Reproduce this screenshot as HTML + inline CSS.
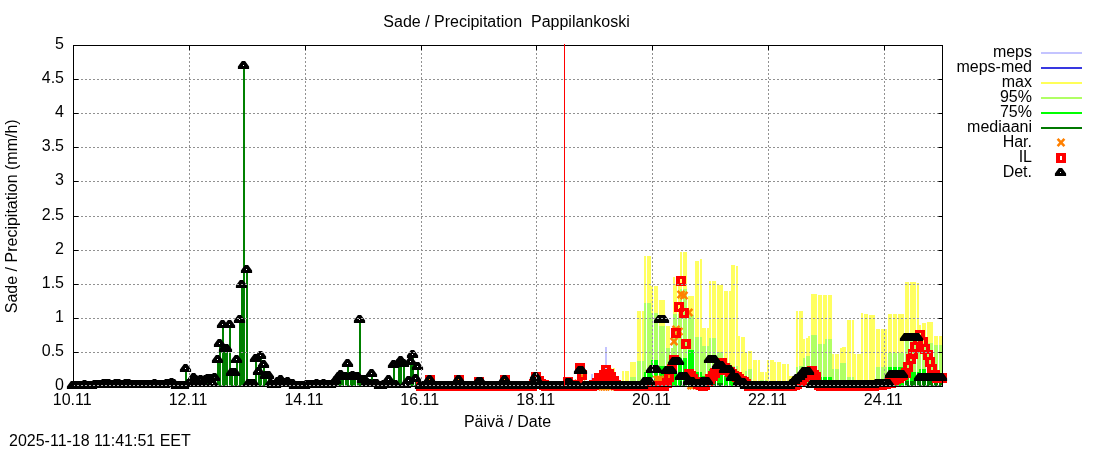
<!DOCTYPE html><html><head><meta charset="utf-8"><title>Sade / Precipitation Pappilankoski</title>
<style>html,body{margin:0;padding:0;background:#fff}body{width:1100px;height:450px;overflow:hidden}svg{display:block}text{font-family:"Liberation Sans",sans-serif;font-size:16px;fill:#000}</style></head><body>
<svg width="1100" height="450" viewBox="0 0 1100 450">
<rect width="1100" height="450" fill="#fff"/>
<defs>
<path id="t" d="M-1.6,-4.5H1.6L5.6,1V3.4H-5.6V1Z M-0.5,-0.5h1v1h-1z" fill="#000" fill-rule="evenodd"/>
<path id="s" d="M-5,-5H5V5H-5Z M-1,-2h2v4h-2z" fill="#f00" fill-rule="evenodd"/>
<path id="x" d="M-3.4,-3.7L3.4,3.7M-3.4,3.7L3.4,-3.7" stroke="#ff8000" stroke-width="2.5" fill="none"/>
</defs>
<g id="plot">
<path d="M591,374.2h2V386.5h-2zM605,346.9h2V386.5h-2z" fill="#c4c4ff" shape-rendering="crispEdges"/>
<path d="M608,368.1h2V386.5h-2zM610,368.1h2V386.5h-2zM613,368.1h2V386.5h-2zM622,371.2h2V386.5h-2zM625,371.2h2V386.5h-2zM627,371.2h2V386.5h-2zM630,362.3h2V386.5h-2zM632,362.3h2V386.5h-2zM634,362.3h2V386.5h-2zM637,311.0h2V386.5h-2zM639,311.0h2V386.5h-2zM642,311.0h2V386.5h-2zM644,256.2h2V386.5h-2zM647,256.2h2V386.5h-2zM649,256.2h2V386.5h-2zM651,286.2h2V386.5h-2zM654,286.2h2V386.5h-2zM656,286.2h2V386.5h-2zM659,299.9h2V386.5h-2zM661,299.9h2V386.5h-2zM663,299.9h2V386.5h-2zM666,326.0h2V386.5h-2zM668,326.0h2V386.5h-2zM671,366.0h2V386.5h-2zM673,277.0h2V386.5h-2zM675,284.2h2V386.5h-2zM678,280.8h2V386.5h-2zM680,252.1h2V386.5h-2zM683,252.1h2V386.5h-2zM685,252.1h2V386.5h-2zM688,295.5h2V386.5h-2zM690,295.5h2V386.5h-2zM692,295.5h2V386.5h-2zM695,261.0h2V386.5h-2zM697,261.0h2V386.5h-2zM700,259.0h2V386.5h-2zM702,327.8h2V386.5h-2zM704,327.8h2V386.5h-2zM707,327.8h2V386.5h-2zM709,281.1h2V386.5h-2zM712,281.1h2V386.5h-2zM714,281.1h2V386.5h-2zM717,284.9h2V386.5h-2zM719,284.9h2V386.5h-2zM721,284.9h2V386.5h-2zM724,291.0h2V386.5h-2zM726,291.0h2V386.5h-2zM729,291.0h2V386.5h-2zM731,265.1h2V386.5h-2zM733,265.1h2V386.5h-2zM736,265.8h2V386.5h-2zM738,336.0h2V386.5h-2zM741,336.7h2V386.5h-2zM743,336.7h2V386.5h-2zM745,352.1h2V386.5h-2zM748,351.0h2V386.5h-2zM750,351.0h2V386.5h-2zM753,359.9h2V386.5h-2zM755,359.9h2V386.5h-2zM758,359.9h2V386.5h-2zM760,372.2h2V386.5h-2zM762,372.2h2V386.5h-2zM765,372.2h2V386.5h-2zM767,359.9h2V386.5h-2zM770,359.9h2V386.5h-2zM772,359.9h2V386.5h-2zM774,361.9h2V386.5h-2zM777,361.9h2V386.5h-2zM779,361.9h2V386.5h-2zM782,364.0h2V386.5h-2zM784,364.0h2V386.5h-2zM787,364.0h2V386.5h-2zM789,375.9h2V386.5h-2zM791,375.9h2V386.5h-2zM794,375.9h2V386.5h-2zM796,310.5h2V386.5h-2zM799,310.5h2V386.5h-2zM801,310.5h2V386.5h-2zM803,338.8h2V386.5h-2zM806,337.7h2V386.5h-2zM808,336.0h2V386.5h-2zM811,294.1h2V386.5h-2zM813,294.1h2V386.5h-2zM815,294.1h2V386.5h-2zM818,295.1h2V386.5h-2zM820,295.1h2V386.5h-2zM823,295.1h2V386.5h-2zM825,295.1h2V386.5h-2zM828,295.1h2V386.5h-2zM830,295.1h2V386.5h-2zM832,354.1h2V386.5h-2zM835,354.1h2V386.5h-2zM837,354.1h2V386.5h-2zM840,348.0h2V386.5h-2zM842,346.9h2V386.5h-2zM844,346.9h2V386.5h-2zM847,320.2h2V386.5h-2zM849,320.2h2V386.5h-2zM852,320.2h2V386.5h-2zM854,353.8h2V386.5h-2zM857,353.8h2V386.5h-2zM859,353.8h2V386.5h-2zM861,313.2h2V386.5h-2zM864,314.2h2V386.5h-2zM866,314.2h2V386.5h-2zM869,315.1h2V386.5h-2zM871,315.1h2V386.5h-2zM873,315.1h2V386.5h-2zM876,329.2h2V386.5h-2zM878,329.2h2V386.5h-2zM881,329.2h2V386.5h-2zM883,329.2h2V386.5h-2zM885,329.2h2V386.5h-2zM888,313.9h2V386.5h-2zM890,313.9h2V386.5h-2zM893,313.9h2V386.5h-2zM895,313.9h2V386.5h-2zM898,313.9h2V386.5h-2zM900,313.9h2V386.5h-2zM902,313.9h2V386.5h-2zM905,282.2h2V386.5h-2zM907,282.2h2V386.5h-2zM910,282.2h2V386.5h-2zM912,282.2h2V386.5h-2zM914,282.2h2V386.5h-2zM917,282.8h2V386.5h-2zM919,324.8h2V386.5h-2zM922,323.1h2V386.5h-2zM924,323.1h2V386.5h-2zM927,322.1h2V386.5h-2zM929,322.1h2V386.5h-2zM931,322.1h2V386.5h-2zM934,336.0h2V386.5h-2zM936,336.0h2V386.5h-2zM939,336.0h2V386.5h-2zM941,336.0h2V386.5h-2z" fill="#ffff60" shape-rendering="crispEdges"/>
<path d="M630,377.0h2V386.5h-2zM632,377.0h2V386.5h-2zM634,377.0h2V386.5h-2zM637,360.8h2V386.5h-2zM639,360.8h2V386.5h-2zM642,360.8h2V386.5h-2zM644,303.0h2V386.5h-2zM647,303.0h2V386.5h-2zM649,303.0h2V386.5h-2zM651,313.0h2V386.5h-2zM654,313.0h2V386.5h-2zM656,313.0h2V386.5h-2zM659,326.0h2V386.5h-2zM661,326.0h2V386.5h-2zM663,326.0h2V386.5h-2zM666,348.0h2V386.5h-2zM668,348.0h2V386.5h-2zM671,348.0h2V386.5h-2zM673,314.0h2V386.5h-2zM675,314.0h2V386.5h-2zM678,314.0h2V386.5h-2zM680,289.0h2V386.5h-2zM683,289.0h2V386.5h-2zM685,289.0h2V386.5h-2zM688,314.5h2V386.5h-2zM690,314.5h2V386.5h-2zM692,314.5h2V386.5h-2zM695,337.0h2V386.5h-2zM697,337.0h2V386.5h-2zM700,337.0h2V386.5h-2zM702,346.3h2V386.5h-2zM704,346.3h2V386.5h-2zM707,346.3h2V386.5h-2zM709,338.4h2V386.5h-2zM712,338.4h2V386.5h-2zM714,338.4h2V386.5h-2zM717,352.4h2V386.5h-2zM719,352.4h2V386.5h-2zM721,352.4h2V386.5h-2zM724,362.6h2V386.5h-2zM726,362.6h2V386.5h-2zM729,362.6h2V386.5h-2zM731,366.0h2V386.5h-2zM733,366.0h2V386.5h-2zM736,366.0h2V386.5h-2zM738,378.3h2V386.5h-2zM741,378.3h2V386.5h-2zM743,378.3h2V386.5h-2zM745,370.5h2V386.5h-2zM748,369.1h2V386.5h-2zM750,369.1h2V386.5h-2zM753,383.8h2V386.5h-2zM755,383.8h2V386.5h-2zM758,383.8h2V386.5h-2zM760,379.7h2V386.5h-2zM762,379.7h2V386.5h-2zM765,379.7h2V386.5h-2zM767,383.1h2V386.5h-2zM770,383.1h2V386.5h-2zM772,383.1h2V386.5h-2zM774,383.1h2V386.5h-2zM777,383.1h2V386.5h-2zM779,383.1h2V386.5h-2zM782,383.1h2V386.5h-2zM784,383.1h2V386.5h-2zM787,383.1h2V386.5h-2zM789,384.5h2V386.5h-2zM791,384.5h2V386.5h-2zM794,384.5h2V386.5h-2zM796,367.4h2V386.5h-2zM799,366.4h2V386.5h-2zM801,366.4h2V386.5h-2zM803,357.9h2V386.5h-2zM806,356.0h2V386.5h-2zM808,355.5h2V386.5h-2zM811,335.4h2V386.5h-2zM813,335.4h2V386.5h-2zM815,335.4h2V386.5h-2zM818,344.2h2V386.5h-2zM820,344.2h2V386.5h-2zM823,344.2h2V386.5h-2zM825,339.4h2V386.5h-2zM828,339.4h2V386.5h-2zM830,339.4h2V386.5h-2zM832,368.8h2V386.5h-2zM835,368.8h2V386.5h-2zM837,368.8h2V386.5h-2zM840,362.9h2V386.5h-2zM842,362.9h2V386.5h-2zM844,362.9h2V386.5h-2zM847,377.0h2V386.5h-2zM849,377.0h2V386.5h-2zM852,377.0h2V386.5h-2zM854,384.5h2V386.5h-2zM857,384.5h2V386.5h-2zM859,384.5h2V386.5h-2zM861,385.1h2V386.5h-2zM864,385.1h2V386.5h-2zM866,385.1h2V386.5h-2zM869,385.1h2V386.5h-2zM871,385.1h2V386.5h-2zM873,385.1h2V386.5h-2zM876,366.9h2V386.5h-2zM878,366.9h2V386.5h-2zM881,366.9h2V386.5h-2zM883,366.9h2V386.5h-2zM885,366.9h2V386.5h-2zM888,353.1h2V386.5h-2zM890,353.1h2V386.5h-2zM893,353.1h2V386.5h-2zM895,353.1h2V386.5h-2zM898,353.1h2V386.5h-2zM900,353.1h2V386.5h-2zM902,353.1h2V386.5h-2zM905,340.1h2V386.5h-2zM907,340.1h2V386.5h-2zM910,340.1h2V386.5h-2zM912,340.1h2V386.5h-2zM914,340.1h2V386.5h-2zM917,340.1h2V386.5h-2zM919,343.2h2V386.5h-2zM922,343.2h2V386.5h-2zM924,343.2h2V386.5h-2zM927,343.2h2V386.5h-2zM929,343.2h2V386.5h-2zM931,343.2h2V386.5h-2zM934,344.9h2V386.5h-2zM936,344.9h2V386.5h-2zM939,344.9h2V386.5h-2zM941,344.9h2V386.5h-2z" fill="#b0ff64" shape-rendering="crispEdges"/>
<path d="M644,372.2h2V386.5h-2zM647,372.2h2V386.5h-2zM649,372.2h2V386.5h-2zM651,359.9h2V386.5h-2zM654,359.9h2V386.5h-2zM656,359.9h2V386.5h-2zM659,366.0h2V386.5h-2zM661,366.0h2V386.5h-2zM663,366.0h2V386.5h-2zM666,372.9h2V386.5h-2zM668,372.9h2V386.5h-2zM671,372.9h2V386.5h-2zM673,362.6h2V386.5h-2zM675,362.6h2V386.5h-2zM678,362.6h2V386.5h-2zM680,357.9h2V386.5h-2zM683,357.9h2V386.5h-2zM685,357.9h2V386.5h-2zM688,350.4h2V386.5h-2zM690,350.4h2V386.5h-2zM692,350.4h2V386.5h-2zM695,372.2h2V386.5h-2zM697,372.2h2V386.5h-2zM700,372.2h2V386.5h-2zM702,376.3h2V386.5h-2zM704,376.3h2V386.5h-2zM707,376.3h2V386.5h-2zM709,369.4h2V386.5h-2zM712,369.4h2V386.5h-2zM714,369.4h2V386.5h-2zM717,374.2h2V386.5h-2zM719,374.2h2V386.5h-2zM721,374.2h2V386.5h-2zM724,375.9h2V386.5h-2zM726,375.9h2V386.5h-2zM729,375.9h2V386.5h-2zM731,381.0h2V386.5h-2zM733,381.0h2V386.5h-2zM736,381.0h2V386.5h-2zM738,383.1h2V386.5h-2zM741,383.1h2V386.5h-2zM743,383.1h2V386.5h-2zM818,377.0h2V386.5h-2zM820,377.0h2V386.5h-2zM823,377.0h2V386.5h-2zM825,377.0h2V386.5h-2zM828,377.0h2V386.5h-2zM830,377.0h2V386.5h-2zM888,367.1h2V386.5h-2zM890,367.1h2V386.5h-2zM893,367.1h2V386.5h-2zM895,367.1h2V386.5h-2zM898,367.1h2V386.5h-2zM900,367.1h2V386.5h-2zM902,367.1h2V386.5h-2zM905,372.2h2V386.5h-2zM907,372.2h2V386.5h-2zM910,372.2h2V386.5h-2zM912,372.2h2V386.5h-2zM914,372.2h2V386.5h-2zM917,372.2h2V386.5h-2zM919,368.8h2V386.5h-2zM922,368.8h2V386.5h-2zM924,368.8h2V386.5h-2zM927,372.9h2V386.5h-2zM929,372.9h2V386.5h-2zM931,372.9h2V386.5h-2zM934,376.3h2V386.5h-2zM936,376.3h2V386.5h-2zM939,376.3h2V386.5h-2zM941,376.3h2V386.5h-2z" fill="#00ff00" shape-rendering="crispEdges"/>
<path d="M84,385.1h2V386.5h-2zM94,385.1h2V386.5h-2zM96,385.1h2V386.5h-2zM99,385.1h2V386.5h-2zM101,385.1h2V386.5h-2zM103,384.5h2V386.5h-2zM106,384.5h2V386.5h-2zM108,384.5h2V386.5h-2zM111,385.1h2V386.5h-2zM113,385.1h2V386.5h-2zM115,384.5h2V386.5h-2zM118,384.5h2V386.5h-2zM120,385.1h2V386.5h-2zM123,385.1h2V386.5h-2zM125,384.5h2V386.5h-2zM128,384.5h2V386.5h-2zM130,385.1h2V386.5h-2zM132,385.1h2V386.5h-2zM135,385.1h2V386.5h-2zM137,385.1h2V386.5h-2zM140,385.1h2V386.5h-2zM142,385.1h2V386.5h-2zM144,385.1h2V386.5h-2zM147,385.1h2V386.5h-2zM149,385.1h2V386.5h-2zM152,385.1h2V386.5h-2zM154,384.1h2V386.5h-2zM156,385.1h2V386.5h-2zM159,385.1h2V386.5h-2zM161,385.1h2V386.5h-2zM164,385.1h2V386.5h-2zM166,383.8h2V386.5h-2zM169,383.8h2V386.5h-2zM171,383.1h2V386.5h-2zM173,383.8h2V386.5h-2zM176,385.8h2V386.5h-2zM178,385.8h2V386.5h-2zM181,385.8h2V386.5h-2zM183,385.8h2V386.5h-2zM185,368.8h2V386.5h-2zM188,384.5h2V386.5h-2zM190,383.1h2V386.5h-2zM193,378.3h2V386.5h-2zM195,380.4h2V386.5h-2zM198,383.8h2V386.5h-2zM200,380.4h2V386.5h-2zM202,383.8h2V386.5h-2zM205,380.4h2V386.5h-2zM207,379.0h2V386.5h-2zM210,379.0h2V386.5h-2zM212,384.5h2V386.5h-2zM214,378.3h2V386.5h-2zM217,359.9h2V386.5h-2zM219,344.6h2V386.5h-2zM222,325.1h2V386.5h-2zM224,349.0h2V386.5h-2zM226,349.0h2V386.5h-2zM229,325.1h2V386.5h-2zM231,373.5h2V386.5h-2zM234,373.5h2V386.5h-2zM236,359.9h2V386.5h-2zM239,320.7h2V386.5h-2zM241,284.9h2V386.5h-2zM243,66.0h2V386.5h-2zM246,269.9h2V386.5h-2zM248,383.8h2V386.5h-2zM251,383.8h2V386.5h-2zM253,383.8h2V386.5h-2zM255,359.2h2V386.5h-2zM258,371.8h2V386.5h-2zM260,355.8h2V386.5h-2zM263,365.0h2V386.5h-2zM265,376.3h2V386.5h-2zM268,376.3h2V386.5h-2zM270,383.8h2V386.5h-2zM272,385.1h2V386.5h-2zM275,385.1h2V386.5h-2zM277,382.4h2V386.5h-2zM280,380.4h2V386.5h-2zM282,383.1h2V386.5h-2zM284,383.1h2V386.5h-2zM287,382.4h2V386.5h-2zM289,383.8h2V386.5h-2zM292,384.5h2V386.5h-2zM294,385.8h2V386.5h-2zM306,385.1h2V386.5h-2zM309,385.1h2V386.5h-2zM311,385.1h2V386.5h-2zM313,385.1h2V386.5h-2zM316,384.5h2V386.5h-2zM318,385.1h2V386.5h-2zM321,385.1h2V386.5h-2zM323,384.5h2V386.5h-2zM325,385.1h2V386.5h-2zM328,385.1h2V386.5h-2zM330,385.1h2V386.5h-2zM333,383.8h2V386.5h-2zM335,381.0h2V386.5h-2zM338,377.6h2V386.5h-2zM340,375.2h2V386.5h-2zM342,377.6h2V386.5h-2zM345,377.6h2V386.5h-2zM347,364.0h2V386.5h-2zM350,377.6h2V386.5h-2zM352,376.3h2V386.5h-2zM354,377.6h2V386.5h-2zM357,377.3h2V386.5h-2zM359,320.3h2V386.5h-2zM362,380.4h2V386.5h-2zM364,380.4h2V386.5h-2zM366,383.1h2V386.5h-2zM369,383.8h2V386.5h-2zM371,374.2h2V386.5h-2zM374,383.8h2V386.5h-2zM376,383.8h2V386.5h-2zM379,385.8h2V386.5h-2zM381,385.8h2V386.5h-2zM383,385.1h2V386.5h-2zM386,385.1h2V386.5h-2zM388,380.0h2V386.5h-2zM391,385.1h2V386.5h-2zM393,365.4h2V386.5h-2zM395,385.1h2V386.5h-2zM398,364.0h2V386.5h-2zM400,361.3h2V386.5h-2zM403,364.0h2V386.5h-2zM405,385.1h2V386.5h-2zM408,381.0h2V386.5h-2zM410,361.9h2V386.5h-2zM412,355.1h2V386.5h-2zM415,379.0h2V386.5h-2zM417,367.1h2V386.5h-2zM429,380.0h2V386.5h-2zM458,380.0h2V386.5h-2zM478,382.1h2V386.5h-2zM480,382.1h2V386.5h-2zM504,380.0h2V386.5h-2zM533,383.1h2V386.5h-2zM535,377.2h2V386.5h-2zM538,383.1h2V386.5h-2zM680,381.0h2V386.5h-2zM683,381.0h2V386.5h-2zM685,381.0h2V386.5h-2zM688,379.7h2V386.5h-2zM690,379.7h2V386.5h-2zM692,379.7h2V386.5h-2zM695,383.1h2V386.5h-2zM697,383.1h2V386.5h-2zM700,383.1h2V386.5h-2zM709,381.0h2V386.5h-2zM712,381.0h2V386.5h-2zM714,381.0h2V386.5h-2zM717,383.1h2V386.5h-2zM719,383.1h2V386.5h-2zM721,383.1h2V386.5h-2zM905,381.0h2V386.5h-2zM907,381.0h2V386.5h-2zM910,381.0h2V386.5h-2zM912,381.0h2V386.5h-2zM914,381.0h2V386.5h-2zM917,381.0h2V386.5h-2zM919,381.0h2V386.5h-2zM922,381.0h2V386.5h-2zM924,381.0h2V386.5h-2zM927,381.0h2V386.5h-2zM929,381.0h2V386.5h-2zM931,381.0h2V386.5h-2zM934,381.0h2V386.5h-2zM936,381.0h2V386.5h-2zM939,381.0h2V386.5h-2zM941,381.0h2V386.5h-2z" fill="#008000" shape-rendering="crispEdges"/>
<use href="#x" x="430.0" y="380.5"/>
<use href="#x" x="459.0" y="380.5"/>
<use href="#x" x="505.0" y="380.5"/>
<use href="#x" x="578.0" y="383.5"/>
<use href="#x" x="582.0" y="376.5"/>
<use href="#x" x="599.0" y="386.5"/>
<use href="#x" x="602.0" y="386.5"/>
<use href="#x" x="604.0" y="386.5"/>
<use href="#x" x="606.0" y="386.5"/>
<use href="#x" x="609.0" y="386.5"/>
<use href="#x" x="611.0" y="386.5"/>
<use href="#x" x="657.0" y="379.5"/>
<use href="#x" x="660.0" y="379.5"/>
<use href="#x" x="669.0" y="376.5"/>
<use href="#x" x="674.0" y="341.5"/>
<use href="#x" x="676.0" y="329.5"/>
<use href="#x" x="679.0" y="331.5"/>
<use href="#x" x="681.0" y="294.5"/>
<use href="#x" x="684.0" y="295.5"/>
<use href="#x" x="689.0" y="312.5"/>
<use href="#x" x="691.0" y="385.5"/>
<use href="#x" x="693.0" y="385.5"/>
<use href="#s" x="421.0" y="386"/>
<use href="#s" x="423.0" y="386"/>
<use href="#s" x="425.0" y="386"/>
<use href="#s" x="428.0" y="386"/>
<use href="#s" x="430.0" y="380"/>
<use href="#s" x="433.0" y="386"/>
<use href="#s" x="435.0" y="386"/>
<use href="#s" x="437.0" y="386"/>
<use href="#s" x="440.0" y="386"/>
<use href="#s" x="442.0" y="386"/>
<use href="#s" x="445.0" y="386"/>
<use href="#s" x="447.0" y="386"/>
<use href="#s" x="450.0" y="386"/>
<use href="#s" x="452.0" y="386"/>
<use href="#s" x="454.0" y="386"/>
<use href="#s" x="457.0" y="386"/>
<use href="#s" x="459.0" y="380"/>
<use href="#s" x="462.0" y="386"/>
<use href="#s" x="464.0" y="386"/>
<use href="#s" x="466.0" y="386"/>
<use href="#s" x="469.0" y="386"/>
<use href="#s" x="471.0" y="386"/>
<use href="#s" x="474.0" y="386"/>
<use href="#s" x="476.0" y="386"/>
<use href="#s" x="479.0" y="382"/>
<use href="#s" x="481.0" y="386"/>
<use href="#s" x="483.0" y="386"/>
<use href="#s" x="486.0" y="386"/>
<use href="#s" x="488.0" y="386"/>
<use href="#s" x="491.0" y="386"/>
<use href="#s" x="493.0" y="386"/>
<use href="#s" x="495.0" y="386"/>
<use href="#s" x="498.0" y="386"/>
<use href="#s" x="500.0" y="386"/>
<use href="#s" x="503.0" y="386"/>
<use href="#s" x="505.0" y="380"/>
<use href="#s" x="508.0" y="386"/>
<use href="#s" x="510.0" y="386"/>
<use href="#s" x="512.0" y="386"/>
<use href="#s" x="515.0" y="386"/>
<use href="#s" x="517.0" y="386"/>
<use href="#s" x="520.0" y="386"/>
<use href="#s" x="522.0" y="386"/>
<use href="#s" x="524.0" y="386"/>
<use href="#s" x="527.0" y="386"/>
<use href="#s" x="529.0" y="386"/>
<use href="#s" x="532.0" y="386"/>
<use href="#s" x="534.0" y="384"/>
<use href="#s" x="536.0" y="377"/>
<use href="#s" x="539.0" y="381"/>
<use href="#s" x="541.0" y="384"/>
<use href="#s" x="544.0" y="385"/>
<use href="#s" x="546.0" y="386"/>
<use href="#s" x="549.0" y="386"/>
<use href="#s" x="551.0" y="386"/>
<use href="#s" x="553.0" y="386"/>
<use href="#s" x="556.0" y="386"/>
<use href="#s" x="558.0" y="386"/>
<use href="#s" x="561.0" y="386"/>
<use href="#s" x="563.0" y="386"/>
<use href="#s" x="565.0" y="386"/>
<use href="#s" x="568.0" y="382"/>
<use href="#s" x="570.0" y="385"/>
<use href="#s" x="573.0" y="386"/>
<use href="#s" x="575.0" y="386"/>
<use href="#s" x="578.0" y="385"/>
<use href="#s" x="580.0" y="368"/>
<use href="#s" x="582.0" y="375"/>
<use href="#s" x="585.0" y="386"/>
<use href="#s" x="587.0" y="386"/>
<use href="#s" x="590.0" y="386"/>
<use href="#s" x="592.0" y="386"/>
<use href="#s" x="594.0" y="385"/>
<use href="#s" x="597.0" y="383"/>
<use href="#s" x="599.0" y="378"/>
<use href="#s" x="602.0" y="378"/>
<use href="#s" x="604.0" y="375"/>
<use href="#s" x="606.0" y="370"/>
<use href="#s" x="609.0" y="374"/>
<use href="#s" x="611.0" y="377"/>
<use href="#s" x="614.0" y="381"/>
<use href="#s" x="616.0" y="385"/>
<use href="#s" x="619.0" y="386"/>
<use href="#s" x="621.0" y="386"/>
<use href="#s" x="623.0" y="386"/>
<use href="#s" x="626.0" y="386"/>
<use href="#s" x="628.0" y="386"/>
<use href="#s" x="631.0" y="386"/>
<use href="#s" x="633.0" y="386"/>
<use href="#s" x="635.0" y="386"/>
<use href="#s" x="638.0" y="386"/>
<use href="#s" x="640.0" y="386"/>
<use href="#s" x="643.0" y="386"/>
<use href="#s" x="645.0" y="386"/>
<use href="#s" x="648.0" y="386"/>
<use href="#s" x="650.0" y="386"/>
<use href="#s" x="652.0" y="386"/>
<use href="#s" x="655.0" y="386"/>
<use href="#s" x="657.0" y="386"/>
<use href="#s" x="660.0" y="386"/>
<use href="#s" x="662.0" y="386"/>
<use href="#s" x="664.0" y="386"/>
<use href="#s" x="667.0" y="383"/>
<use href="#s" x="669.0" y="377"/>
<use href="#s" x="672.0" y="369"/>
<use href="#s" x="674.0" y="360"/>
<use href="#s" x="676.0" y="333"/>
<use href="#s" x="679.0" y="307"/>
<use href="#s" x="681.0" y="281"/>
<use href="#s" x="684.0" y="313"/>
<use href="#s" x="686.0" y="344"/>
<use href="#s" x="689.0" y="374"/>
<use href="#s" x="691.0" y="376"/>
<use href="#s" x="693.0" y="379"/>
<use href="#s" x="696.0" y="382"/>
<use href="#s" x="698.0" y="384"/>
<use href="#s" x="701.0" y="385"/>
<use href="#s" x="703.0" y="386"/>
<use href="#s" x="705.0" y="385"/>
<use href="#s" x="708.0" y="382"/>
<use href="#s" x="710.0" y="379"/>
<use href="#s" x="713.0" y="376"/>
<use href="#s" x="715.0" y="373"/>
<use href="#s" x="718.0" y="370"/>
<use href="#s" x="720.0" y="366"/>
<use href="#s" x="722.0" y="363"/>
<use href="#s" x="725.0" y="368"/>
<use href="#s" x="727.0" y="370"/>
<use href="#s" x="730.0" y="372"/>
<use href="#s" x="732.0" y="374"/>
<use href="#s" x="734.0" y="376"/>
<use href="#s" x="737.0" y="377"/>
<use href="#s" x="739.0" y="379"/>
<use href="#s" x="742.0" y="381"/>
<use href="#s" x="744.0" y="382"/>
<use href="#s" x="746.0" y="384"/>
<use href="#s" x="749.0" y="386"/>
<use href="#s" x="751.0" y="386"/>
<use href="#s" x="754.0" y="386"/>
<use href="#s" x="756.0" y="386"/>
<use href="#s" x="759.0" y="386"/>
<use href="#s" x="761.0" y="386"/>
<use href="#s" x="763.0" y="386"/>
<use href="#s" x="766.0" y="386"/>
<use href="#s" x="768.0" y="386"/>
<use href="#s" x="771.0" y="386"/>
<use href="#s" x="773.0" y="386"/>
<use href="#s" x="775.0" y="386"/>
<use href="#s" x="778.0" y="386"/>
<use href="#s" x="780.0" y="386"/>
<use href="#s" x="783.0" y="386"/>
<use href="#s" x="785.0" y="386"/>
<use href="#s" x="788.0" y="386"/>
<use href="#s" x="790.0" y="386"/>
<use href="#s" x="792.0" y="386"/>
<use href="#s" x="795.0" y="385"/>
<use href="#s" x="797.0" y="384"/>
<use href="#s" x="800.0" y="382"/>
<use href="#s" x="802.0" y="380"/>
<use href="#s" x="804.0" y="377"/>
<use href="#s" x="807.0" y="374"/>
<use href="#s" x="809.0" y="372"/>
<use href="#s" x="812.0" y="371"/>
<use href="#s" x="814.0" y="375"/>
<use href="#s" x="816.0" y="377"/>
<use href="#s" x="819.0" y="385"/>
<use href="#s" x="821.0" y="386"/>
<use href="#s" x="824.0" y="386"/>
<use href="#s" x="826.0" y="386"/>
<use href="#s" x="829.0" y="386"/>
<use href="#s" x="831.0" y="386"/>
<use href="#s" x="833.0" y="386"/>
<use href="#s" x="836.0" y="386"/>
<use href="#s" x="838.0" y="386"/>
<use href="#s" x="841.0" y="386"/>
<use href="#s" x="843.0" y="386"/>
<use href="#s" x="845.0" y="386"/>
<use href="#s" x="848.0" y="386"/>
<use href="#s" x="850.0" y="386"/>
<use href="#s" x="853.0" y="386"/>
<use href="#s" x="855.0" y="386"/>
<use href="#s" x="858.0" y="386"/>
<use href="#s" x="860.0" y="386"/>
<use href="#s" x="862.0" y="386"/>
<use href="#s" x="865.0" y="386"/>
<use href="#s" x="867.0" y="386"/>
<use href="#s" x="870.0" y="386"/>
<use href="#s" x="872.0" y="386"/>
<use href="#s" x="874.0" y="386"/>
<use href="#s" x="877.0" y="385"/>
<use href="#s" x="879.0" y="385"/>
<use href="#s" x="882.0" y="385"/>
<use href="#s" x="884.0" y="384"/>
<use href="#s" x="886.0" y="384"/>
<use href="#s" x="889.0" y="383"/>
<use href="#s" x="891.0" y="383"/>
<use href="#s" x="894.0" y="380"/>
<use href="#s" x="896.0" y="379"/>
<use href="#s" x="899.0" y="378"/>
<use href="#s" x="901.0" y="376"/>
<use href="#s" x="903.0" y="375"/>
<use href="#s" x="906.0" y="373"/>
<use href="#s" x="908.0" y="367"/>
<use href="#s" x="911.0" y="359"/>
<use href="#s" x="913.0" y="354"/>
<use href="#s" x="915.0" y="347"/>
<use href="#s" x="918.0" y="340"/>
<use href="#s" x="920.0" y="335"/>
<use href="#s" x="923.0" y="342"/>
<use href="#s" x="925.0" y="349"/>
<use href="#s" x="928.0" y="355"/>
<use href="#s" x="930.0" y="362"/>
<use href="#s" x="932.0" y="369"/>
<use href="#s" x="935.0" y="375"/>
<use href="#s" x="937.0" y="378"/>
<use href="#s" x="940.0" y="378"/>
<use href="#s" x="942.0" y="378"/>
<use href="#t" x="72.5" y="385.5"/>
<use href="#t" x="74.5" y="385.5"/>
<use href="#t" x="77.5" y="385.5"/>
<use href="#t" x="79.5" y="385.5"/>
<use href="#t" x="82.5" y="385.5"/>
<use href="#t" x="84.5" y="384.5"/>
<use href="#t" x="86.5" y="385.5"/>
<use href="#t" x="89.5" y="385.5"/>
<use href="#t" x="91.5" y="385.5"/>
<use href="#t" x="94.5" y="384.5"/>
<use href="#t" x="96.5" y="384.5"/>
<use href="#t" x="99.5" y="384.5"/>
<use href="#t" x="101.5" y="384.5"/>
<use href="#t" x="103.5" y="383.5"/>
<use href="#t" x="106.5" y="383.5"/>
<use href="#t" x="108.5" y="383.5"/>
<use href="#t" x="111.5" y="384.5"/>
<use href="#t" x="113.5" y="384.5"/>
<use href="#t" x="115.5" y="383.5"/>
<use href="#t" x="118.5" y="383.5"/>
<use href="#t" x="120.5" y="384.5"/>
<use href="#t" x="123.5" y="384.5"/>
<use href="#t" x="125.5" y="383.5"/>
<use href="#t" x="128.5" y="383.5"/>
<use href="#t" x="130.5" y="384.5"/>
<use href="#t" x="132.5" y="384.5"/>
<use href="#t" x="135.5" y="384.5"/>
<use href="#t" x="137.5" y="384.5"/>
<use href="#t" x="140.5" y="384.5"/>
<use href="#t" x="142.5" y="384.5"/>
<use href="#t" x="144.5" y="384.5"/>
<use href="#t" x="147.5" y="384.5"/>
<use href="#t" x="149.5" y="384.5"/>
<use href="#t" x="152.5" y="384.5"/>
<use href="#t" x="154.5" y="383.5"/>
<use href="#t" x="156.5" y="384.5"/>
<use href="#t" x="159.5" y="384.5"/>
<use href="#t" x="161.5" y="384.5"/>
<use href="#t" x="164.5" y="384.5"/>
<use href="#t" x="166.5" y="383.5"/>
<use href="#t" x="169.5" y="383.5"/>
<use href="#t" x="171.5" y="382.5"/>
<use href="#t" x="173.5" y="383.5"/>
<use href="#t" x="176.5" y="385.5"/>
<use href="#t" x="178.5" y="385.5"/>
<use href="#t" x="181.5" y="385.5"/>
<use href="#t" x="183.5" y="385.5"/>
<use href="#t" x="185.5" y="368.5"/>
<use href="#t" x="188.5" y="383.5"/>
<use href="#t" x="190.5" y="382.5"/>
<use href="#t" x="193.5" y="377.5"/>
<use href="#t" x="195.5" y="379.5"/>
<use href="#t" x="198.5" y="383.5"/>
<use href="#t" x="200.5" y="379.5"/>
<use href="#t" x="202.5" y="383.5"/>
<use href="#t" x="205.5" y="379.5"/>
<use href="#t" x="207.5" y="378.5"/>
<use href="#t" x="210.5" y="378.5"/>
<use href="#t" x="212.5" y="383.5"/>
<use href="#t" x="214.5" y="377.5"/>
<use href="#t" x="217.5" y="359.5"/>
<use href="#t" x="219.5" y="343.5"/>
<use href="#t" x="222.5" y="324.5"/>
<use href="#t" x="224.5" y="348.5"/>
<use href="#t" x="226.5" y="348.5"/>
<use href="#t" x="229.5" y="324.5"/>
<use href="#t" x="231.5" y="372.5"/>
<use href="#t" x="234.5" y="372.5"/>
<use href="#t" x="236.5" y="359.5"/>
<use href="#t" x="239.5" y="319.5"/>
<use href="#t" x="241.5" y="284.5"/>
<use href="#t" x="243.5" y="65.5"/>
<use href="#t" x="246.5" y="269.5"/>
<use href="#t" x="248.5" y="383.5"/>
<use href="#t" x="251.5" y="383.5"/>
<use href="#t" x="253.5" y="383.5"/>
<use href="#t" x="255.5" y="358.5"/>
<use href="#t" x="258.5" y="371.5"/>
<use href="#t" x="260.5" y="355.5"/>
<use href="#t" x="263.5" y="364.5"/>
<use href="#t" x="265.5" y="375.5"/>
<use href="#t" x="268.5" y="375.5"/>
<use href="#t" x="270.5" y="383.5"/>
<use href="#t" x="272.5" y="384.5"/>
<use href="#t" x="275.5" y="384.5"/>
<use href="#t" x="277.5" y="381.5"/>
<use href="#t" x="280.5" y="379.5"/>
<use href="#t" x="282.5" y="382.5"/>
<use href="#t" x="284.5" y="382.5"/>
<use href="#t" x="287.5" y="381.5"/>
<use href="#t" x="289.5" y="383.5"/>
<use href="#t" x="292.5" y="383.5"/>
<use href="#t" x="294.5" y="385.5"/>
<use href="#t" x="296.5" y="385.5"/>
<use href="#t" x="299.5" y="385.5"/>
<use href="#t" x="301.5" y="385.5"/>
<use href="#t" x="304.5" y="385.5"/>
<use href="#t" x="306.5" y="384.5"/>
<use href="#t" x="309.5" y="384.5"/>
<use href="#t" x="311.5" y="384.5"/>
<use href="#t" x="313.5" y="384.5"/>
<use href="#t" x="316.5" y="383.5"/>
<use href="#t" x="318.5" y="384.5"/>
<use href="#t" x="321.5" y="384.5"/>
<use href="#t" x="323.5" y="383.5"/>
<use href="#t" x="325.5" y="384.5"/>
<use href="#t" x="328.5" y="384.5"/>
<use href="#t" x="330.5" y="384.5"/>
<use href="#t" x="333.5" y="383.5"/>
<use href="#t" x="335.5" y="380.5"/>
<use href="#t" x="338.5" y="376.5"/>
<use href="#t" x="340.5" y="374.5"/>
<use href="#t" x="342.5" y="376.5"/>
<use href="#t" x="345.5" y="376.5"/>
<use href="#t" x="347.5" y="363.5"/>
<use href="#t" x="350.5" y="376.5"/>
<use href="#t" x="352.5" y="375.5"/>
<use href="#t" x="354.5" y="376.5"/>
<use href="#t" x="357.5" y="376.5"/>
<use href="#t" x="359.5" y="319.5"/>
<use href="#t" x="362.5" y="379.5"/>
<use href="#t" x="364.5" y="379.5"/>
<use href="#t" x="366.5" y="382.5"/>
<use href="#t" x="369.5" y="383.5"/>
<use href="#t" x="371.5" y="373.5"/>
<use href="#t" x="374.5" y="383.5"/>
<use href="#t" x="376.5" y="383.5"/>
<use href="#t" x="379.5" y="385.5"/>
<use href="#t" x="381.5" y="385.5"/>
<use href="#t" x="383.5" y="384.5"/>
<use href="#t" x="386.5" y="384.5"/>
<use href="#t" x="388.5" y="379.5"/>
<use href="#t" x="391.5" y="384.5"/>
<use href="#t" x="393.5" y="364.5"/>
<use href="#t" x="395.5" y="384.5"/>
<use href="#t" x="398.5" y="363.5"/>
<use href="#t" x="400.5" y="360.5"/>
<use href="#t" x="403.5" y="363.5"/>
<use href="#t" x="405.5" y="384.5"/>
<use href="#t" x="408.5" y="380.5"/>
<use href="#t" x="410.5" y="361.5"/>
<use href="#t" x="412.5" y="354.5"/>
<use href="#t" x="415.5" y="378.5"/>
<use href="#t" x="417.5" y="366.5"/>
<use href="#t" x="420.5" y="385.5"/>
<use href="#t" x="422.5" y="385.5"/>
<use href="#t" x="424.5" y="385.5"/>
<use href="#t" x="427.5" y="385.5"/>
<use href="#t" x="429.5" y="379.5"/>
<use href="#t" x="432.5" y="385.5"/>
<use href="#t" x="434.5" y="385.5"/>
<use href="#t" x="436.5" y="385.5"/>
<use href="#t" x="439.5" y="385.5"/>
<use href="#t" x="441.5" y="385.5"/>
<use href="#t" x="444.5" y="385.5"/>
<use href="#t" x="446.5" y="385.5"/>
<use href="#t" x="449.5" y="385.5"/>
<use href="#t" x="451.5" y="385.5"/>
<use href="#t" x="453.5" y="385.5"/>
<use href="#t" x="456.5" y="385.5"/>
<use href="#t" x="458.5" y="379.5"/>
<use href="#t" x="461.5" y="385.5"/>
<use href="#t" x="463.5" y="385.5"/>
<use href="#t" x="465.5" y="385.5"/>
<use href="#t" x="468.5" y="385.5"/>
<use href="#t" x="470.5" y="385.5"/>
<use href="#t" x="473.5" y="385.5"/>
<use href="#t" x="475.5" y="385.5"/>
<use href="#t" x="478.5" y="381.5"/>
<use href="#t" x="480.5" y="381.5"/>
<use href="#t" x="482.5" y="385.5"/>
<use href="#t" x="485.5" y="385.5"/>
<use href="#t" x="487.5" y="385.5"/>
<use href="#t" x="490.5" y="385.5"/>
<use href="#t" x="492.5" y="385.5"/>
<use href="#t" x="494.5" y="385.5"/>
<use href="#t" x="497.5" y="385.5"/>
<use href="#t" x="499.5" y="385.5"/>
<use href="#t" x="502.5" y="385.5"/>
<use href="#t" x="504.5" y="379.5"/>
<use href="#t" x="507.5" y="385.5"/>
<use href="#t" x="509.5" y="385.5"/>
<use href="#t" x="511.5" y="385.5"/>
<use href="#t" x="514.5" y="385.5"/>
<use href="#t" x="516.5" y="385.5"/>
<use href="#t" x="519.5" y="385.5"/>
<use href="#t" x="521.5" y="385.5"/>
<use href="#t" x="523.5" y="385.5"/>
<use href="#t" x="526.5" y="385.5"/>
<use href="#t" x="528.5" y="385.5"/>
<use href="#t" x="531.5" y="385.5"/>
<use href="#t" x="533.5" y="382.5"/>
<use href="#t" x="535.5" y="376.5"/>
<use href="#t" x="538.5" y="382.5"/>
<use href="#t" x="540.5" y="385.5"/>
<use href="#t" x="543.5" y="385.5"/>
<use href="#t" x="545.5" y="385.5"/>
<use href="#t" x="548.5" y="385.5"/>
<use href="#t" x="550.5" y="385.5"/>
<use href="#t" x="552.5" y="385.5"/>
<use href="#t" x="555.5" y="385.5"/>
<use href="#t" x="557.5" y="385.5"/>
<use href="#t" x="560.5" y="385.5"/>
<use href="#t" x="562.5" y="385.5"/>
<use href="#t" x="564.5" y="385.5"/>
<use href="#t" x="567.5" y="382.5"/>
<use href="#t" x="569.5" y="382.5"/>
<use href="#t" x="572.5" y="385.5"/>
<use href="#t" x="574.5" y="385.5"/>
<use href="#t" x="577.5" y="385.5"/>
<use href="#t" x="579.5" y="370.5"/>
<use href="#t" x="581.5" y="370.5"/>
<use href="#t" x="584.5" y="385.5"/>
<use href="#t" x="586.5" y="385.5"/>
<use href="#t" x="589.5" y="385.5"/>
<use href="#t" x="591.5" y="385.5"/>
<use href="#t" x="593.5" y="385.5"/>
<use href="#t" x="596.5" y="385.5"/>
<use href="#t" x="598.5" y="385.5"/>
<use href="#t" x="601.5" y="385.5"/>
<use href="#t" x="603.5" y="385.5"/>
<use href="#t" x="605.5" y="385.5"/>
<use href="#t" x="608.5" y="385.5"/>
<use href="#t" x="610.5" y="385.5"/>
<use href="#t" x="613.5" y="385.5"/>
<use href="#t" x="615.5" y="385.5"/>
<use href="#t" x="618.5" y="385.5"/>
<use href="#t" x="620.5" y="385.5"/>
<use href="#t" x="622.5" y="385.5"/>
<use href="#t" x="625.5" y="385.5"/>
<use href="#t" x="627.5" y="385.5"/>
<use href="#t" x="630.5" y="385.5"/>
<use href="#t" x="632.5" y="385.5"/>
<use href="#t" x="634.5" y="385.5"/>
<use href="#t" x="637.5" y="385.5"/>
<use href="#t" x="639.5" y="385.5"/>
<use href="#t" x="642.5" y="385.5"/>
<use href="#t" x="644.5" y="381.5"/>
<use href="#t" x="647.5" y="381.5"/>
<use href="#t" x="649.5" y="381.5"/>
<use href="#t" x="651.5" y="369.5"/>
<use href="#t" x="654.5" y="369.5"/>
<use href="#t" x="656.5" y="369.5"/>
<use href="#t" x="659.5" y="319.5"/>
<use href="#t" x="661.5" y="319.5"/>
<use href="#t" x="663.5" y="319.5"/>
<use href="#t" x="666.5" y="370.5"/>
<use href="#t" x="668.5" y="370.5"/>
<use href="#t" x="671.5" y="370.5"/>
<use href="#t" x="673.5" y="361.5"/>
<use href="#t" x="675.5" y="361.5"/>
<use href="#t" x="678.5" y="361.5"/>
<use href="#t" x="680.5" y="376.5"/>
<use href="#t" x="683.5" y="376.5"/>
<use href="#t" x="685.5" y="376.5"/>
<use href="#t" x="688.5" y="381.5"/>
<use href="#t" x="690.5" y="381.5"/>
<use href="#t" x="692.5" y="381.5"/>
<use href="#t" x="695.5" y="383.5"/>
<use href="#t" x="697.5" y="383.5"/>
<use href="#t" x="700.5" y="383.5"/>
<use href="#t" x="702.5" y="381.5"/>
<use href="#t" x="704.5" y="381.5"/>
<use href="#t" x="707.5" y="381.5"/>
<use href="#t" x="709.5" y="359.5"/>
<use href="#t" x="712.5" y="359.5"/>
<use href="#t" x="714.5" y="359.5"/>
<use href="#t" x="717.5" y="365.5"/>
<use href="#t" x="719.5" y="365.5"/>
<use href="#t" x="721.5" y="365.5"/>
<use href="#t" x="724.5" y="369.5"/>
<use href="#t" x="726.5" y="369.5"/>
<use href="#t" x="729.5" y="369.5"/>
<use href="#t" x="731.5" y="377.5"/>
<use href="#t" x="733.5" y="377.5"/>
<use href="#t" x="736.5" y="377.5"/>
<use href="#t" x="738.5" y="382.5"/>
<use href="#t" x="741.5" y="382.5"/>
<use href="#t" x="743.5" y="382.5"/>
<use href="#t" x="745.5" y="385.5"/>
<use href="#t" x="748.5" y="385.5"/>
<use href="#t" x="750.5" y="385.5"/>
<use href="#t" x="753.5" y="385.5"/>
<use href="#t" x="755.5" y="385.5"/>
<use href="#t" x="758.5" y="385.5"/>
<use href="#t" x="760.5" y="385.5"/>
<use href="#t" x="762.5" y="385.5"/>
<use href="#t" x="765.5" y="385.5"/>
<use href="#t" x="767.5" y="385.5"/>
<use href="#t" x="770.5" y="385.5"/>
<use href="#t" x="772.5" y="385.5"/>
<use href="#t" x="774.5" y="385.5"/>
<use href="#t" x="777.5" y="385.5"/>
<use href="#t" x="779.5" y="385.5"/>
<use href="#t" x="782.5" y="385.5"/>
<use href="#t" x="784.5" y="385.5"/>
<use href="#t" x="787.5" y="385.5"/>
<use href="#t" x="789.5" y="385.5"/>
<use href="#t" x="791.5" y="383.5"/>
<use href="#t" x="794.5" y="380.5"/>
<use href="#t" x="796.5" y="378.5"/>
<use href="#t" x="799.5" y="376.5"/>
<use href="#t" x="801.5" y="374.5"/>
<use href="#t" x="803.5" y="371.5"/>
<use href="#t" x="806.5" y="371.5"/>
<use href="#t" x="808.5" y="371.5"/>
<use href="#t" x="811.5" y="384.5"/>
<use href="#t" x="813.5" y="384.5"/>
<use href="#t" x="815.5" y="384.5"/>
<use href="#t" x="818.5" y="384.5"/>
<use href="#t" x="820.5" y="384.5"/>
<use href="#t" x="823.5" y="384.5"/>
<use href="#t" x="825.5" y="384.5"/>
<use href="#t" x="828.5" y="384.5"/>
<use href="#t" x="830.5" y="384.5"/>
<use href="#t" x="832.5" y="384.5"/>
<use href="#t" x="835.5" y="384.5"/>
<use href="#t" x="837.5" y="384.5"/>
<use href="#t" x="840.5" y="384.5"/>
<use href="#t" x="842.5" y="384.5"/>
<use href="#t" x="844.5" y="384.5"/>
<use href="#t" x="847.5" y="384.5"/>
<use href="#t" x="849.5" y="384.5"/>
<use href="#t" x="852.5" y="384.5"/>
<use href="#t" x="854.5" y="384.5"/>
<use href="#t" x="857.5" y="384.5"/>
<use href="#t" x="859.5" y="384.5"/>
<use href="#t" x="861.5" y="384.5"/>
<use href="#t" x="864.5" y="384.5"/>
<use href="#t" x="866.5" y="384.5"/>
<use href="#t" x="869.5" y="384.5"/>
<use href="#t" x="871.5" y="384.5"/>
<use href="#t" x="873.5" y="384.5"/>
<use href="#t" x="876.5" y="383.5"/>
<use href="#t" x="878.5" y="383.5"/>
<use href="#t" x="881.5" y="383.5"/>
<use href="#t" x="883.5" y="383.5"/>
<use href="#t" x="885.5" y="383.5"/>
<use href="#t" x="888.5" y="383.5"/>
<use href="#t" x="890.5" y="374.5"/>
<use href="#t" x="893.5" y="374.5"/>
<use href="#t" x="895.5" y="374.5"/>
<use href="#t" x="898.5" y="374.5"/>
<use href="#t" x="900.5" y="374.5"/>
<use href="#t" x="902.5" y="374.5"/>
<use href="#t" x="905.5" y="337.5"/>
<use href="#t" x="907.5" y="337.5"/>
<use href="#t" x="910.5" y="337.5"/>
<use href="#t" x="912.5" y="337.5"/>
<use href="#t" x="914.5" y="337.5"/>
<use href="#t" x="917.5" y="337.5"/>
<use href="#t" x="919.5" y="377.5"/>
<use href="#t" x="922.5" y="377.5"/>
<use href="#t" x="924.5" y="377.5"/>
<use href="#t" x="927.5" y="377.5"/>
<use href="#t" x="929.5" y="377.5"/>
<use href="#t" x="931.5" y="377.5"/>
<use href="#t" x="934.5" y="377.5"/>
<use href="#t" x="936.5" y="377.5"/>
<use href="#t" x="939.5" y="377.5"/>
<use href="#t" x="941.5" y="377.5"/>
</g>
<path d="M77,352.5H942M77,318.5H942M77,284.5H942M77,250.5H942M77,216.5H942M77,181.5H942M77,147.5H942M77,113.5H942M77,79.5H942M189.5,53V386M305.5,53V386M421.5,53V386M536.5,53V386M652.5,53V386M768.5,53V386M884.5,53V386M73,385.5H942" stroke="#fff" stroke-width="1" stroke-dasharray="2,2" fill="none" shape-rendering="crispEdges" style="mix-blend-mode:difference"/>
<path d="M77,352.5H942M77,318.5H942M77,284.5H942M77,250.5H942M77,216.5H942M77,181.5H942M77,147.5H942M77,113.5H942M77,79.5H942M189.5,53V386M305.5,53V386M421.5,53V386M536.5,53V386M652.5,53V386M768.5,53V386M884.5,53V386M73,385.5H942" stroke="#9f9f9f" stroke-opacity="0.91" stroke-width="1" stroke-dasharray="2,2" fill="none" shape-rendering="crispEdges"/>
<path d="M74,386.5h4.5M943,386.5h-4.5M74,352.5h4.5M943,352.5h-4.5M74,318.5h4.5M943,318.5h-4.5M74,284.5h4.5M943,284.5h-4.5M74,250.5h4.5M943,250.5h-4.5M74,216.5h4.5M943,216.5h-4.5M74,181.5h4.5M943,181.5h-4.5M74,147.5h4.5M943,147.5h-4.5M74,113.5h4.5M943,113.5h-4.5M74,79.5h4.5M943,79.5h-4.5M74,45.5h4.5M943,45.5h-4.5M73.5,386v-4.5M73.5,46v4.5M189.5,386v-4.5M189.5,46v4.5M305.5,386v-4.5M305.5,46v4.5M421.5,386v-4.5M421.5,46v4.5M536.5,386v-4.5M536.5,46v4.5M652.5,386v-4.5M652.5,46v4.5M768.5,386v-4.5M768.5,46v4.5M884.5,386v-4.5M884.5,46v4.5" stroke="#000" stroke-width="1" fill="none"/>
<rect x="73.5" y="45.5" width="869" height="341" fill="none" stroke="#000" stroke-width="1"/>
<path d="M564.5,44V386" stroke="#f00" stroke-width="1"/>
<g style="opacity:0.999">
<text x="64" y="390.3" text-anchor="end">0</text>
<text x="64" y="356.3" text-anchor="end">0.5</text>
<text x="64" y="322.3" text-anchor="end">1</text>
<text x="64" y="288.3" text-anchor="end">1.5</text>
<text x="64" y="254.3" text-anchor="end">2</text>
<text x="64" y="220.3" text-anchor="end">2.5</text>
<text x="64" y="185.3" text-anchor="end">3</text>
<text x="64" y="151.3" text-anchor="end">3.5</text>
<text x="64" y="117.3" text-anchor="end">4</text>
<text x="64" y="83.3" text-anchor="end">4.5</text>
<text x="64" y="49.3" text-anchor="end">5</text>
<text x="72.2" y="405" text-anchor="middle">10.11</text>
<text x="188.1" y="405" text-anchor="middle">12.11</text>
<text x="303.9" y="405" text-anchor="middle">14.11</text>
<text x="419.8" y="405" text-anchor="middle">16.11</text>
<text x="535.7" y="405" text-anchor="middle">18.11</text>
<text x="651.5" y="405" text-anchor="middle">20.11</text>
<text x="767.4" y="405" text-anchor="middle">22.11</text>
<text x="883.3" y="405" text-anchor="middle">24.11</text>
<text x="507.5" y="426.8" text-anchor="middle">Päivä / Date</text>
<text x="506.5" y="27" text-anchor="middle" xml:space="preserve" style="white-space:pre">Sade / Precipitation  Pappilankoski</text>
<text transform="translate(16.8,216.3) rotate(-90)" text-anchor="middle">Sade / Precipitation (mm/h)</text>
<text x="9" y="445.5">2025-11-18 11:41:51 EET</text>
<text x="1032" y="56.5" text-anchor="end">meps</text>
<text x="1032" y="71.5" text-anchor="end">meps-med</text>
<text x="1032" y="86.5" text-anchor="end">max</text>
<text x="1032" y="101.5" text-anchor="end">95%</text>
<text x="1032" y="116.5" text-anchor="end">75%</text>
<text x="1032" y="131.5" text-anchor="end">mediaani</text>
<text x="1032" y="146.5" text-anchor="end">Har.</text>
<text x="1032" y="161.5" text-anchor="end">IL</text>
<text x="1032" y="176.5" text-anchor="end">Det.</text>
</g>
<path d="M1041,53H1082" stroke="#c4c4ff" stroke-width="2" shape-rendering="crispEdges"/>
<path d="M1041,68H1082" stroke="#3838e0" stroke-width="2" shape-rendering="crispEdges"/>
<path d="M1041,83H1082" stroke="#ffff58" stroke-width="2" shape-rendering="crispEdges"/>
<path d="M1041,98H1082" stroke="#b0ff64" stroke-width="2" shape-rendering="crispEdges"/>
<path d="M1041,113H1082" stroke="#00ff00" stroke-width="2" shape-rendering="crispEdges"/>
<path d="M1041,128H1082" stroke="#007800" stroke-width="2" shape-rendering="crispEdges"/>
<use href="#x" x="1061" y="142.5"/>
<use href="#s" x="1061" y="158"/>
<use href="#t" x="1060.5" y="172.5"/>
</svg></body></html>
